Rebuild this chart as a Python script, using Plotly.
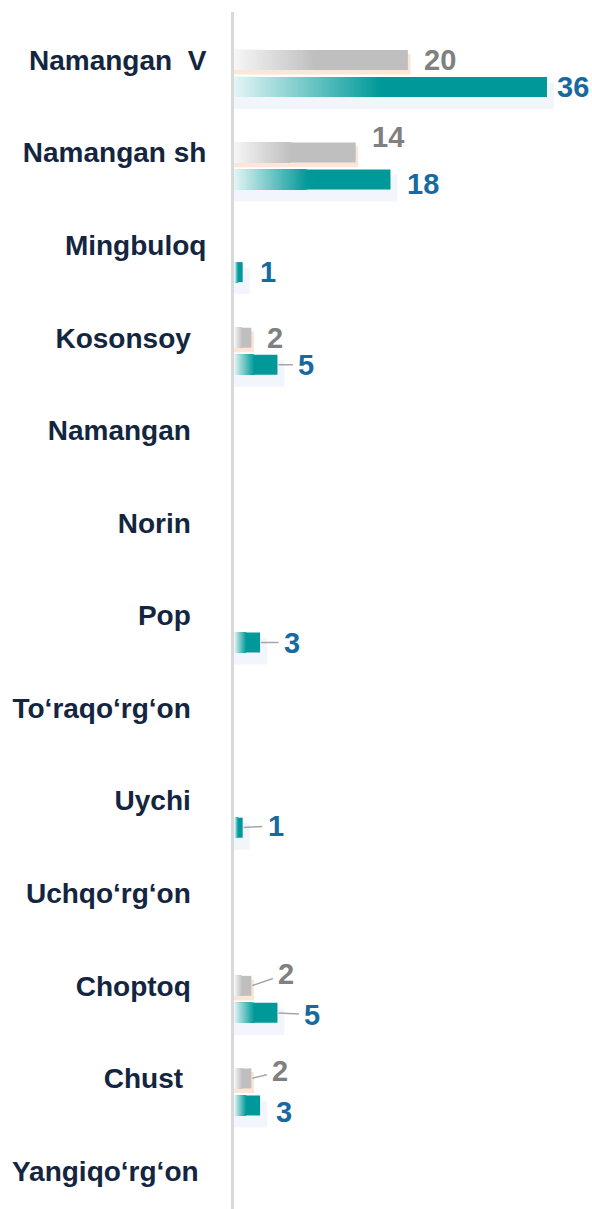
import plotly.graph_objects as go

# ---------------- data ----------------
categories = ["Namangan  V", "Namangan sh", "Mingbuloq", "Kosonsoy", "Namangan",
              "Norin", "Pop", "To‘raqo‘rg‘on", "Uychi", "Uchqo‘rg‘on",
              "Choptoq", "Chust", "Yangiqo‘rg‘on"]
gray_values = [20, 14, 0, 2, 0, 0, 0, 0, 0, 0, 2, 2, 0]
teal_values = [36, 18, 1, 5, 0, 0, 3, 0, 1, 0, 5, 3, 0]

# ---------------- styling ----------------
FONT = "Liberation Sans, Arial, sans-serif"
GRAY = (191, 191, 191)
GRAY_LIGHT = (246, 246, 246)
TEAL = (0, 153, 153)
TEAL_LIGHT = (228, 245, 245)
GRAY_TXT = "#808080"
TEAL_TXT = "#176a9e"
CAT_TXT = "#14263f"

PX_PER_CAT = 92.59
BAR_H = 20 / PX_PER_CAT
TEAL_DY = 27 / PX_PER_CAT
GRAD_FRAC = 0.47
N_STEPS = 60

# trailing padding (nbsp count) for category labels
label_pad = [0, 0, 0, 2, 2, 2, 2, 2, 2, 2, 2, 3, 1]
ticktext = [c.replace("  ", "\u00a0\u00a0") + "\u00a0" * p for c, p in zip(categories, label_pad)]

# label offsets: index -> (dx px to text left, dy px up, leader line)
gray_label_style = {0: (16, 0, False), 1: (16, 16, False), 3: (16, 0, False),
                    10: (26, 12, True), 11: (20, 7, True)}
teal_label_style = {0: (10, 0, False), 1: (17, -4, False), 2: (17, 0, False),
                    3: (20, 0, True), 6: (23, 0, True), 8: (24, 2, True),
                    10: (26, -2, True), 11: (16, -7, False)}


def rgb(c):
    return "rgb(%d,%d,%d)" % c


def lerp(a, b, t):
    return tuple(round(a[i] + (b[i] - a[i]) * t) for i in range(3))


fig = go.Figure()


def add_bar(vals, color, offset, width, name):
    fig.add_trace(go.Bar(
        y=categories, x=vals, orientation="h", base=0,
        offset=offset, width=width,
        marker=dict(color=color, line=dict(width=0)),
        hoverinfo="skip", showlegend=False, name=name))


# shadows / glows
add_bar([v + 0.8 if v else 0 for v in teal_values], "#f2f5fb",
        TEAL_DY - BAR_H / 2 + 0.06, BAR_H + 0.07, "teal shadow")
add_bar([v + 0.3 if v else 0 for v in gray_values], "#fce6d8",
        -BAR_H / 2 + 0.04, BAR_H + 0.01, "gray glow")


def add_gradient_series(vals, solid, light, center_off):
    off = center_off - BAR_H / 2
    add_bar(vals, rgb(solid), off, BAR_H, "solid")
    for k in range(1, N_STEPS + 1):
        frac = GRAD_FRAC * (N_STEPS - k + 1) / N_STEPS
        t = (N_STEPS - k + 0.5) / N_STEPS
        col = lerp(light, solid, t)
        add_bar([v * frac for v in vals], rgb(col), off, BAR_H, "grad")


add_gradient_series(gray_values, GRAY, GRAY_LIGHT, 0.0)
add_gradient_series(teal_values, TEAL, TEAL_LIGHT, TEAL_DY)

# value labels
annotations = []
VAL_SIZE = 29


def add_labels(vals, styles, color, base_shift):
    for i, v in enumerate(vals):
        if not v or i not in styles:
            continue
        dx, dy, leader = styles[i]
        txt = str(v)
        if leader:
            w = 16 * len(txt)
            annotations.append(dict(
                x=v, y=categories[i], text=txt, showarrow=True,
                ax=dx + w / 2 + 1, ay=-dy, axref="pixel", ayref="pixel",
                arrowhead=0, arrowwidth=1.5, arrowcolor="#a6a6a6",
                standoff=1, borderpad=5, yshift=base_shift,
                font=dict(family=FONT, size=VAL_SIZE, color=color, weight="bold")))
        else:
            annotations.append(dict(
                x=v, y=categories[i], text=txt, showarrow=False,
                xanchor="left", yanchor="middle", xshift=dx - 1,
                yshift=base_shift + dy, borderpad=0,
                font=dict(family=FONT, size=VAL_SIZE, color=color, weight="bold")))


add_labels(gray_values, gray_label_style, GRAY_TXT, 0)
add_labels(teal_values, teal_label_style, TEAL_TXT, -27)

fig.update_layout(
    width=592, height=1209,
    margin=dict(l=234, r=0, t=12, b=0),
    paper_bgcolor="white", plot_bgcolor="white",
    barmode="overlay",
    showlegend=False,
    annotations=annotations,
    xaxis=dict(visible=False, range=[0, (592 - 234) / 8.694], fixedrange=True),
    yaxis=dict(
        type="category", categoryorder="array", categoryarray=categories,
        range=[12.41, -0.518],
        tickmode="array", tickvals=categories, ticktext=ticktext,
        showline=True, linewidth=3, linecolor="#d9d9d9",
        showgrid=False, zeroline=False, ticks="",
        ticklabelstandoff=19,
        tickfont=dict(family=FONT, size=28, color=CAT_TXT, weight="bold"),
        fixedrange=True),
)

fig.write_html("out.html", config={"displayModeBar": False},
               post_script="document.body.style.margin='0';document.body.style.overflow='hidden';")
